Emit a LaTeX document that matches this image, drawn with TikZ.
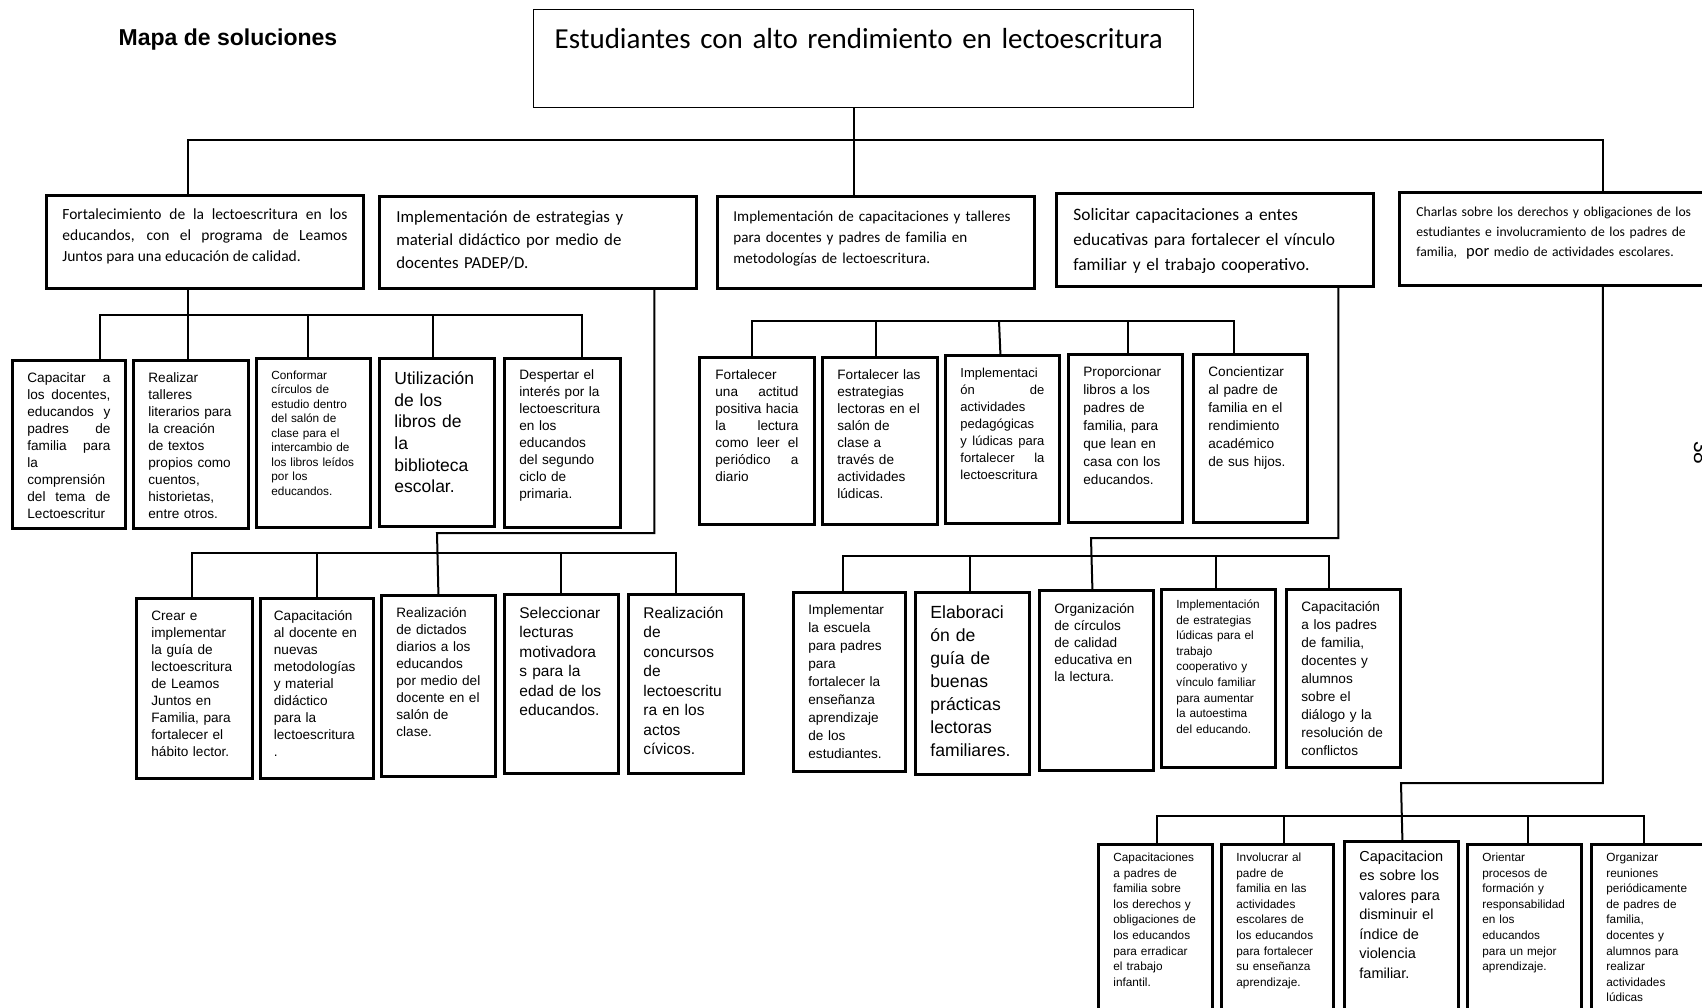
\documentclass[tikz,border=0pt]{standalone}
\usepackage{fontspec}
\setmainfont{Liberation Sans}
\newfontfamily\arialf{Liberation Sans}
\newfontfamily\calibrif{Carlito}
\newcommand{\letra}[2]{\fontsize{#1}{#2}\selectfont}
\hyphenpenalty=10000
\exhyphenpenalty=10000
\tolerance=10000
\hbadness=10000

\begin{document}
\begin{tikzpicture}[
    x=1pt, y=-1pt,
    raiz/.style={draw, line width=1.3pt, anchor=north west, inner xsep=21pt, inner ysep=0pt,
                 align=left, font=\calibrif\letra{29}{35}},
    nivel/.style={draw, line width=2.8pt, anchor=north west, inner xsep=16pt, inner ysep=0pt,
                  align=left, font=\calibrif},
    caja/.style={draw, line width=2.8pt, anchor=north west, inner xsep=15pt, inner ysep=0pt,
                 align=left, font=\arialf\letra{13.6}{17}, text height=22pt},
    chica/.style={font=\arialf\letra{11.8}{15.6}, text height=19pt},
    grande/.style={font=\arialf\letra{15.5}{19.5}, text height=24pt},
    conector/.style={line width=2pt}
]
\path[use as bounding box] (0,0) rectangle (1702,1007);
\clip (0,0) rectangle (1702,1007);

% Title and root
\node[font=\arialf\bfseries\letra{23}{28}] (titulo) at (228,40) {Mapa de soluciones};
\node[raiz, text width=618pt, text height=39pt, text depth=59pt] (raiz) at (533,9)
    {Estudiantes con alto rendimiento en lectoescritura};

% Level 1
\node[nivel, text width=285pt, text height=24pt, text depth=69pt, align=justify,
      font=\calibrif\letra{15.5}{21}] (fort) at (45,194)
    {Fortalecimiento de la lectoescritura en los\linebreak educandos, con el programa de Leamos\linebreak Juntos para una educación de calidad.};
\node[nivel, inner xsep=17pt, text width=283pt, text height=26pt, text depth=66pt,
      font=\calibrif\letra{16.8}{23}] (estr) at (378,195)
    {Implementación de estrategias y\\ material didáctico por medio de\\ docentes PADEP/D.};
\node[nivel, text width=285pt, text height=25pt, text depth=67pt,
      font=\calibrif\letra{15.1}{21}] (capa) at (716,195)
    {Implementación de capacitaciones y talleres\\ para docentes y padres de familia en\\ metodologías de lectoescritura.};
\node[nivel, inner xsep=17pt, text width=283pt, text height=27pt, text depth=66pt,
      font=\calibrif\letra{17.4}{25}] (soli) at (1055,192)
    {Solicitar capacitaciones a entes\\ educativas para fortalecer el vínculo\\ familiar y el trabajo cooperativo.};
\node[nivel, inner xsep=17pt, text width=296pt, text height=24pt, text depth=69pt,
      font=\calibrif\letra{13.65}{20}] (charl) at (1398,191)
    {Charlas sobre los derechos y obligaciones de los\\ estudiantes e involucramiento de los padres de\\ familia,\ \ {\letra{16.5}{20}por} medio de actividades escolares.};

% Under "Fortalecimiento"
\node[caja, text width=83pt, text depth=146pt, align=justify] (capacitar) at (11,359)
    {Capacitar a\linebreak los docentes,\linebreak educandos y\linebreak padres de\linebreak familia para\linebreak la\linebreak comprensión\linebreak del tema de\linebreak Lectoescritur};
\node[caja, text width=85pt, text depth=146pt] (talleres) at (132,359)
    {Realizar\\ talleres\\ literarios para\\ la creación\\ de textos\\ propios como\\ cuentos,\\ historietas,\\ entre otros.};
\node[caja, text width=84pt, text height=21pt, text depth=148pt, font=\arialf\letra{11.8}{14.5}] (circulos) at (255,357)
    {Conformar\\ círculos de\\ estudio dentro\\ del salón de\\ clase para el\\ intercambio de\\ los libros leídos\\ por los\\ educandos.};
\node[caja, text width=85pt, text height=26pt, text depth=142pt, font=\arialf\letra{17.5}{21.7}] (biblioteca) at (378,357)
    {Utilización\\ de los\\ libros de\\ la\\ biblioteca\\ escolar.};
\node[caja, text width=86pt, text height=21pt, text depth=148pt] (despertar) at (503,357)
    {Despertar el\\ interés por la\\ lectoescritura\\ en los\\ educandos\\ del segundo\\ ciclo de\\ primaria.};

% Under "capacitaciones y talleres"
\node[caja, inner xsep=16pt, text width=83pt, text depth=145pt, align=justify] (actitud) at (698,356)
    {Fortalecer\linebreak una actitud\linebreak positiva hacia\linebreak la lectura\linebreak como leer el\linebreak periódico a\linebreak diario};
\node[caja, text width=85pt, text depth=145pt] (lectoras) at (821,356)
    {Fortalecer las\\ estrategias\\ lectoras en el\\ salón de\\ clase a\\ través de\\ actividades\\ lúdicas.};
\node[caja, text width=84pt, text depth=146pt, align=justify, font=\arialf\letra{13}{17}] (pedagogicas) at (944,354)
    {Implementaci\linebreak ón de\linebreak actividades\linebreak pedagógicas\linebreak y lúdicas para\linebreak fortalecer la\linebreak lectoescritura};
\node[caja, text width=84pt, text depth=146pt, font=\arialf\letra{13.6}{18}] (libros) at (1067,353)
    {Proporcionar\\ libros a los\\ padres de\\ familia, para\\ que lean en\\ casa con los\\ educandos.};
\node[caja, text width=84pt, text depth=146pt, font=\arialf\letra{13.6}{18}] (concientizar) at (1192,353)
    {Concientizar\\ al padre de\\ familia en el\\ rendimiento\\ académico\\ de sus hijos.};

% Under "estrategias y material"
\node[caja, text width=86pt, text depth=158pt] (guia) at (135,597)
    {Crear e\\ implementar\\ la guía de\\ lectoescritura\\ de Leamos\\ Juntos en\\ Familia, para\\ fortalecer el\\ hábito lector.};
\node[caja, inner xsep=13.5pt, text width=86pt, text depth=158pt] (capdocente) at (259,597)
    {Capacitación\\ al docente en\\ nuevas\\ metodologías\\ y material\\ didáctico\\ para la\\ lectoescritura\\ .};
\node[caja, text width=84pt, text depth=159pt] (dictados) at (380,594)
    {Realización\\ de dictados\\ diarios a los\\ educandos\\ por medio del\\ docente en el\\ salón de\\ clase.};
\node[caja, grande, text width=84pt, text depth=155pt] (lecturas) at (503,593)
    {Seleccionar\\ lecturas\\ motivadora\\ s para la\\ edad de los\\ educandos.};
\node[caja, grande, text width=85pt, text depth=155pt] (concursos) at (627,593)
    {Realización\\ de\\ concursos\\ de\\ lectoescritu\\ ra en los\\ actos\\ cívicos.};

% Under "Solicitar capacitaciones"
\node[caja, text width=82pt, text depth=157pt, font=\arialf\letra{13.6}{18}] (escuela) at (792,591)
    {Implementar\\ la escuela\\ para padres\\ para\\ fortalecer la\\ enseñanza\\ aprendizaje\\ de los\\ estudiantes.};
\node[caja, text width=84pt, text height=26pt, text depth=156pt, font=\arialf\letra{17.6}{23}] (buenas) at (914,591)
    {Elaboraci\\ ón de\\ guía de\\ buenas\\ prácticas\\ lectoras\\ familiares.};
\node[caja, text width=84pt, text height=23pt, text depth=157pt] (calidad) at (1038,589)
    {Organización\\ de círculos\\ de calidad\\ educativa en\\ la lectura.};
\node[caja, chica, text width=84pt, text depth=159pt] (ludicas) at (1160,588)
    {Implementación\\ de estrategias\\ lúdicas para el\\ trabajo\\ cooperativo y\\ vínculo familiar\\ para aumentar\\ la autoestima\\ del educando.};
\node[caja, text width=84pt, text depth=156pt, font=\arialf\letra{13.6}{18}] (dialogo) at (1285,588)
    {Capacitación\\ a los padres\\ de familia,\\ docentes y\\ alumnos\\ sobre el\\ diálogo y la\\ resolución de\\ conflictos};

% Under "Charlas"
\node[caja, chica, text width=84pt, text height=17pt, text depth=183pt] (derechos) at (1097,843)
    {Capacitaciones\\ a padres de\\ familia sobre\\ los derechos y\\ obligaciones de\\ los educandos\\ para erradicar\\ el trabajo\\ infantil.};
\node[caja, chica, text width=82pt, text height=17pt, text depth=183pt] (involucrar) at (1220,843)
    {Involucrar al\\ padre de\\ familia en las\\ actividades\\ escolares de\\ los educandos\\ para fortalecer\\ su enseñanza\\ aprendizaje.};
\node[caja, text width=84pt, text height=20pt, text depth=186pt, font=\arialf\letra{14.5}{19.5}] (valores) at (1343,840)
    {Capacitacion\\ es sobre los\\ valores para\\ disminuir el\\ índice de\\ violencia\\ familiar.};
\node[caja, chica, text width=84pt, text height=17pt, text depth=183pt] (orientar) at (1466,843)
    {Orientar\\ procesos de\\ formación y\\ responsabilidad\\ en los\\ educandos\\ para un mejor\\ aprendizaje.};
\node[caja, chica, text width=84pt, text height=17pt, text depth=183pt] (reuniones) at (1590,843)
    {Organizar\\ reuniones\\ periódicamente\\ de padres de\\ familia,\\ docentes y\\ alumnos para\\ realizar\\ actividades\\ lúdicas};

% page number on the edge
\node[font=\arialf\letra{21}{25}, rotate=-90, anchor=base west, inner sep=0pt] (pagina) at (1694,441) {38};

% Trunk
\coordinate (tronco) at (854,140);
\draw[conector] (raiz.south -| tronco) -- (capa.north -| tronco);
\draw[conector] ([xshift=-16.5pt]fort.north) |- (tronco) -| ([xshift=38.5pt]charl.north);

% Group A
\coordinate (busA) at (187,315);
\draw[conector] ([xshift=-16.5pt]fort.south) -- ([xshift=-2.5pt]talleres.north);
\draw[conector] ([xshift=31.5pt]capacitar.north) |- (busA) -| ([xshift=20pt]despertar.north);
\draw[conector] ([xshift=-5pt]circulos.north) |- (busA);
\draw[conector] ([xshift=-3.5pt]biblioteca.north) |- (busA);

% Group C (no link to its parent)
\coordinate (busC) at (999,321);
\draw[conector] ([xshift=-4.5pt]actitud.north) |- (busC) -| ([xshift=-16pt]concientizar.north);
\draw[conector] ([xshift=-3.5pt]lectoras.north) |- (busC);
\draw[conector] ([xshift=-2pt]pedagogicas.north) -- (busC);
\draw[conector] ([xshift=3pt]libros.north) |- (busC);

% Group B
\coordinate (codoB) at (437,533);
\coordinate (busB) at (437,553);
\draw[conector] ([xshift=116.5pt]estr.south) |- (codoB) -- (dictados.north);
\draw[conector] ([xshift=-2pt]guia.north) |- (busB) -| ([xshift=-9.5pt]concursos.north);
\draw[conector] (capdocente.north) |- (busB);
\draw[conector] (lecturas.north) |- (busB);

% Group D
\coordinate (codoD) at (1091,538);
\coordinate (busD) at (1091,556);
\draw[conector] ([xshift=123.5pt]soli.south) |- (codoD) -- ([xshift=-4pt]calidad.north);
\draw[conector] ([xshift=-6pt]escuela.north) |- (busD) -| ([xshift=-14pt]dialogo.north);
\draw[conector] ([xshift=-2pt]buenas.north) |- (busD);
\draw[conector] ([xshift=-2pt]ludicas.north) |- (busD);

% Group E
\coordinate (codoE) at (1401,783);
\coordinate (busE) at (1401,816);
\draw[conector] ([xshift=38.5pt]charl.south) |- (codoE) -- ([xshift=1pt]valores.north);
\draw[conector] ([xshift=2pt]derechos.north) |- (busE) -| ([xshift=-4pt]reuniones.north);
\draw[conector] ([xshift=7pt]involucrar.north) |- (busE);
\draw[conector] ([xshift=4pt]orientar.north) |- (busE);

\end{tikzpicture}
\end{document}
